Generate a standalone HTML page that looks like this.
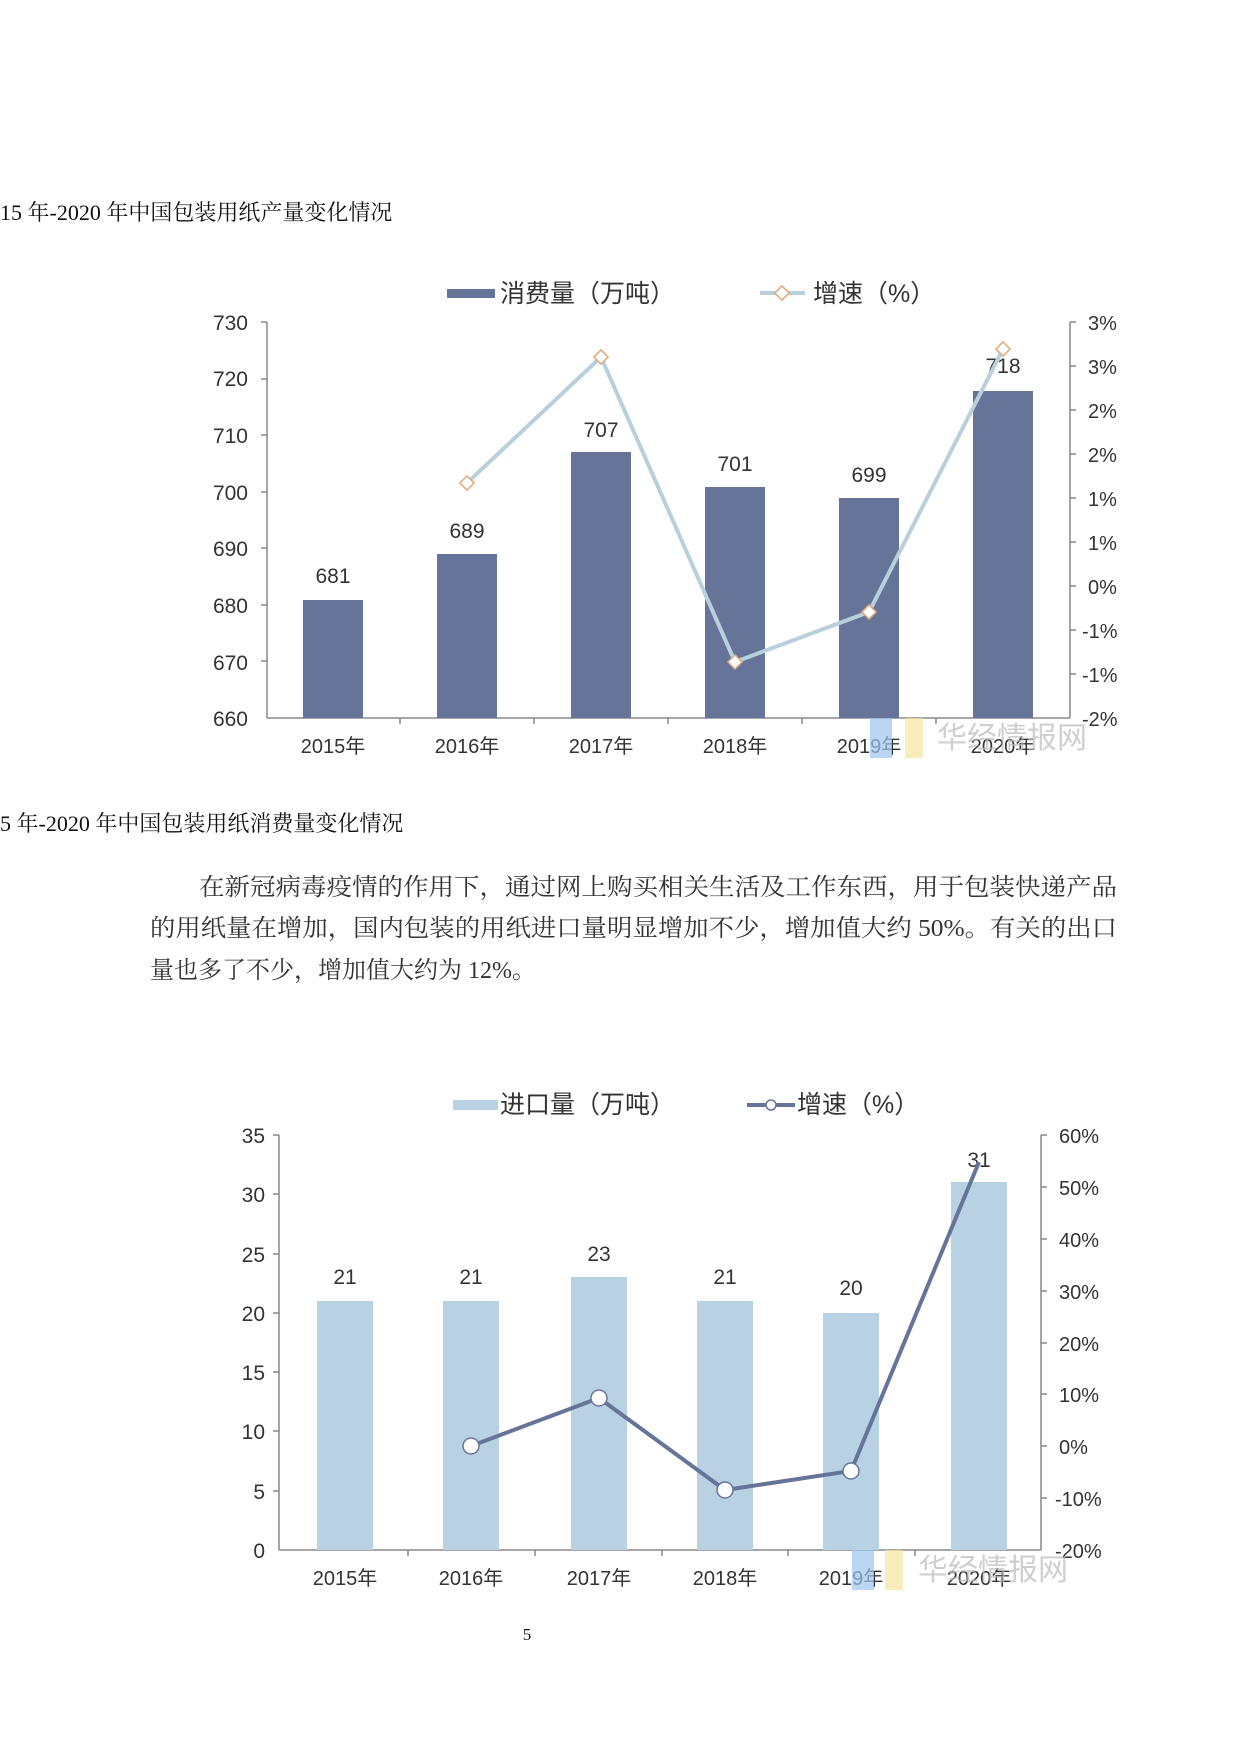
<!DOCTYPE html>
<html><head><meta charset="utf-8"><style>
html,body{margin:0;padding:0;background:#fff;}
svg{display:block;}
.s{font-family:"Liberation Serif","Noto Serif CJK SC",serif;}
.a{font-family:"Liberation Sans","Noto Sans CJK SC",sans-serif;}
</style></head><body>
<svg width="1240" height="1754" viewBox="0 0 1240 1754" xmlns="http://www.w3.org/2000/svg">
<rect width="1240" height="1754" fill="#fff"/>
<text class="s" x="0" y="220" font-size="22" fill="#111">15 年-2020 年中国包装用纸产量变化情况</text>

<!-- Chart 1 -->
<g class="a">
<rect x="447" y="289" width="48" height="9" fill="#67749a"/>
<text x="500" y="302" font-size="25" fill="#333">消费量（万吨）</text>
<line x1="760" y1="293" x2="805" y2="293" stroke="#b8d0dc" stroke-width="4"/>
<rect x="777" y="288" width="10" height="10" fill="#fff" stroke="#e0a878" stroke-width="1.5" transform="rotate(45 782 293)"/>
<text x="813" y="302" font-size="25" fill="#333">增速（%）</text>

<line x1="267" y1="322" x2="267" y2="718" stroke="#888" stroke-width="1.5"/>
<line x1="267" y1="718" x2="1070" y2="718" stroke="#888" stroke-width="1.5"/>
<line x1="1070" y1="322" x2="1070" y2="718" stroke="#888" stroke-width="1.5"/>
<g font-size="21" fill="#333" text-anchor="end">
<text x="248" y="330">730</text><text x="248" y="386">720</text><text x="248" y="443">710</text><text x="248" y="500">700</text><text x="248" y="556">690</text><text x="248" y="613">680</text><text x="248" y="670">670</text><text x="248" y="726">660</text>
</g>
<g stroke="#888" stroke-width="1.5">
<line x1="261" y1="322" x2="267" y2="322"/><line x1="261" y1="379" x2="267" y2="379"/><line x1="261" y1="435" x2="267" y2="435"/><line x1="261" y1="492" x2="267" y2="492"/><line x1="261" y1="548" x2="267" y2="548"/><line x1="261" y1="605" x2="267" y2="605"/><line x1="261" y1="661" x2="267" y2="661"/>
<line x1="1070" y1="322" x2="1076" y2="322"/><line x1="1070" y1="366" x2="1076" y2="366"/><line x1="1070" y1="410" x2="1076" y2="410"/><line x1="1070" y1="454" x2="1076" y2="454"/><line x1="1070" y1="498" x2="1076" y2="498"/><line x1="1070" y1="542" x2="1076" y2="542"/><line x1="1070" y1="586" x2="1076" y2="586"/><line x1="1070" y1="630" x2="1076" y2="630"/><line x1="1070" y1="674" x2="1076" y2="674"/>
<line x1="400" y1="718" x2="400" y2="724"/><line x1="534" y1="718" x2="534" y2="724"/><line x1="668" y1="718" x2="668" y2="724"/><line x1="802" y1="718" x2="802" y2="724"/><line x1="936" y1="718" x2="936" y2="724"/>
</g>
<g font-size="20" fill="#333">
<text x="1088" y="330">3%</text><text x="1088" y="374">3%</text><text x="1088" y="418">2%</text><text x="1088" y="462">2%</text><text x="1088" y="506">1%</text><text x="1088" y="550">1%</text><text x="1088" y="594">0%</text><text x="1082" y="638">-1%</text><text x="1082" y="682">-1%</text><text x="1082" y="726">-2%</text>
</g>
<g fill="#67749a">
<rect x="303" y="600" width="60" height="118"/>
<rect x="437" y="554" width="60" height="164"/>
<rect x="571" y="452" width="60" height="266"/>
<rect x="705" y="487" width="60" height="231"/>
<rect x="839" y="498" width="60" height="220"/>
<rect x="973" y="391" width="60" height="327"/>
</g>
<g font-size="21" fill="#333" text-anchor="middle">
<text x="333" y="583">681</text><text x="467" y="538">689</text><text x="601" y="437">707</text><text x="735" y="471">701</text><text x="869" y="482">699</text><text x="1003" y="373">718</text>
</g>
<polyline points="467,483 601,357 735,662 869,612 1003,349" fill="none" stroke="#b8d0dc" stroke-width="4"/>
<g fill="#fff" stroke="#e0a878" stroke-width="1.5">
<rect x="462" y="478" width="10" height="10" transform="rotate(45 467 483)"/>
<rect x="596" y="352" width="10" height="10" transform="rotate(45 601 357)"/>
<rect x="730" y="657" width="10" height="10" transform="rotate(45 735 662)"/>
<rect x="864" y="607" width="10" height="10" transform="rotate(45 869 612)"/>
<rect x="998" y="344" width="10" height="10" transform="rotate(45 1003 349)"/>
</g>
<g font-size="20" fill="#333" text-anchor="middle">
<text x="333" y="753">2015年</text><text x="467" y="753">2016年</text><text x="601" y="753">2017年</text><text x="735" y="753">2018年</text><text x="869" y="753">2019年</text><text x="1003" y="753">2020年</text>
</g>
<rect x="870" y="718" width="22" height="40" fill="#9ec3f0" opacity="0.7"/>
<rect x="905" y="718" width="18" height="40" fill="#f7e6a0" opacity="0.7"/>
<text x="937" y="748" font-size="30" fill="#bbb" opacity="0.7">华经情报网</text>
</g>

<text class="s" x="0" y="831" font-size="22" fill="#111">5 年-2020 年中国包装用纸消费量变化情况</text>
<g class="s" font-size="24" fill="#333">
<text x="199" y="895" textLength="918" lengthAdjust="spacingAndGlyphs">在新冠病毒疫情的作用下，通过网上购买相关生活及工作东西，用于包装快递产品</text>
<text x="150" y="936" textLength="967" lengthAdjust="spacingAndGlyphs">的用纸量在增加，国内包装的用纸进口量明显增加不少，增加值大约 50%。有关的出口</text>
<text x="150" y="978">量也多了不少，增加值大约为 12%。</text>
</g>

<!-- Chart 2 -->
<g class="a">
<rect x="453" y="1100" width="45" height="10" fill="#b8d2e4"/>
<text x="500" y="1113" font-size="25" fill="#333">进口量（万吨）</text>
<line x1="747" y1="1105" x2="795" y2="1105" stroke="#67749a" stroke-width="4"/>
<circle cx="771" cy="1105" r="5" fill="#fff" stroke="#67749a" stroke-width="1.5"/>
<text x="797" y="1113" font-size="25" fill="#333">增速（%）</text>

<line x1="279" y1="1135" x2="279" y2="1550" stroke="#888" stroke-width="1.5"/>
<line x1="279" y1="1550" x2="1041" y2="1550" stroke="#888" stroke-width="1.5"/>
<line x1="1041" y1="1135" x2="1041" y2="1550" stroke="#888" stroke-width="1.5"/>
<g font-size="21" fill="#333" text-anchor="end">
<text x="265" y="1143">35</text><text x="265" y="1202">30</text><text x="265" y="1262">25</text><text x="265" y="1321">20</text><text x="265" y="1380">15</text><text x="265" y="1439">10</text><text x="265" y="1499">5</text><text x="265" y="1558">0</text>
</g>
<g stroke="#888" stroke-width="1.5">
<line x1="273" y1="1135" x2="279" y2="1135"/><line x1="273" y1="1194" x2="279" y2="1194"/><line x1="273" y1="1254" x2="279" y2="1254"/><line x1="273" y1="1313" x2="279" y2="1313"/><line x1="273" y1="1372" x2="279" y2="1372"/><line x1="273" y1="1431" x2="279" y2="1431"/><line x1="273" y1="1491" x2="279" y2="1491"/>
<line x1="1041" y1="1135" x2="1047" y2="1135"/><line x1="1041" y1="1187" x2="1047" y2="1187"/><line x1="1041" y1="1239" x2="1047" y2="1239"/><line x1="1041" y1="1291" x2="1047" y2="1291"/><line x1="1041" y1="1343" x2="1047" y2="1343"/><line x1="1041" y1="1394" x2="1047" y2="1394"/><line x1="1041" y1="1446" x2="1047" y2="1446"/><line x1="1041" y1="1498" x2="1047" y2="1498"/>
<line x1="408" y1="1550" x2="408" y2="1556"/><line x1="535" y1="1550" x2="535" y2="1556"/><line x1="662" y1="1550" x2="662" y2="1556"/><line x1="788" y1="1550" x2="788" y2="1556"/><line x1="915" y1="1550" x2="915" y2="1556"/>
</g>
<g font-size="20" fill="#333">
<text x="1059" y="1143">60%</text><text x="1059" y="1195">50%</text><text x="1059" y="1247">40%</text><text x="1059" y="1299">30%</text><text x="1059" y="1351">20%</text><text x="1059" y="1402">10%</text><text x="1059" y="1454">0%</text><text x="1055" y="1506">-10%</text><text x="1055" y="1558">-20%</text>
</g>
<g fill="#b8d2e4">
<rect x="317" y="1301" width="56" height="249"/>
<rect x="443" y="1301" width="56" height="249"/>
<rect x="571" y="1277" width="56" height="273"/>
<rect x="697" y="1301" width="56" height="249"/>
<rect x="823" y="1313" width="56" height="237"/>
<rect x="951" y="1182" width="56" height="368"/>
</g>
<g font-size="21" fill="#333" text-anchor="middle">
<text x="345" y="1284">21</text><text x="471" y="1284">21</text><text x="599" y="1261">23</text><text x="725" y="1284">21</text><text x="851" y="1295">20</text><text x="979" y="1167">31</text>
</g>
<polyline points="471,1446 599,1398 725,1490 851,1471 979,1162" fill="none" stroke="#67749a" stroke-width="4"/>
<g fill="#fff" stroke="#67749a" stroke-width="1.5">
<circle cx="471" cy="1446" r="8"/><circle cx="599" cy="1398" r="8"/><circle cx="725" cy="1490" r="8"/><circle cx="851" cy="1471" r="8"/>
</g>
<g font-size="20" fill="#333" text-anchor="middle">
<text x="345" y="1585">2015年</text><text x="471" y="1585">2016年</text><text x="599" y="1585">2017年</text><text x="725" y="1585">2018年</text><text x="851" y="1585">2019年</text><text x="979" y="1585">2020年</text>
</g>
<rect x="852" y="1550" width="22" height="40" fill="#9ec3f0" opacity="0.7"/>
<rect x="885" y="1550" width="18" height="40" fill="#f7e6a0" opacity="0.7"/>
<text x="918" y="1580" font-size="30" fill="#bbb" opacity="0.7">华经情报网</text>
</g>

<text class="s" x="527" y="1640" font-size="17" fill="#111" text-anchor="middle">5</text>
</svg>
</body></html>
